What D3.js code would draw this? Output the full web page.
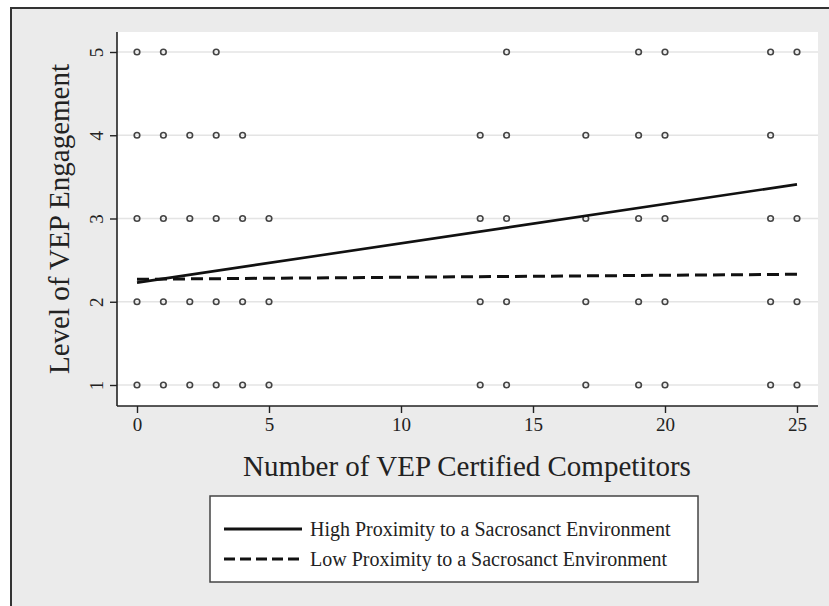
<!DOCTYPE html>
<html>
<head>
<meta charset="utf-8">
<script src="https://cdn.jsdelivr.net/npm/d3@7"></script>
<style>
  body { margin: 0; background: #fff; }
  text { font-family: "Liberation Serif", "Times New Roman", serif; fill: #222; }
</style>
</head>
<body>
<div id="chart"></div>
<script>
// observed points: competitors (x) at each engagement level (y)
var level5 = [0, 1, 3, 14, 19, 20, 24, 25]
var level4 = [0, 1, 2, 3, 4, 13, 14, 17, 19, 20, 24]
var level3 = [0, 1, 2, 3, 4, 5, 13, 14, 17, 19, 20, 24, 25]
var level2 = [0, 1, 2, 3, 4, 5, 13, 14, 17, 19, 20, 24, 25]
var level1 = [0, 1, 2, 3, 4, 5, 13, 14, 17, 19, 20, 24, 25]

// fitted lines (x, predicted engagement)
var highFit = [[0, 2.23], [25, 3.41]]
var lowFit = [[0, 2.27], [25, 2.33]]

var xTicks = [0, 5, 10, 15, 20, 25]
var yTicks = [1, 2, 3, 4, 5]
var legendLabels = ["High Proximity to a Sacrosanct Environment", "Low Proximity to a Sacrosanct Environment"]

var width = 829, height = 606

var svg = d3.select("#chart").append("svg")
    .attr("width", width)
    .attr("height", height)

// outer graph region
svg.append("rect")
    .attr("x", 11).attr("y", 8)
    .attr("width", width).attr("height", height)
    .attr("fill", "#ebebeb")
    .attr("stroke", "#333")
    .attr("stroke-width", 2)

var plot = { left: 117, right: 818, top: 32, bottom: 406 }

svg.append("rect")
    .attr("x", plot.left).attr("y", plot.top)
    .attr("width", plot.right - plot.left)
    .attr("height", plot.bottom - plot.top)
    .attr("fill", "#fff")

var x = d3.scaleLinear().domain([0, 25]).range([137, 797])
var y = d3.scaleLinear().domain([1, 5]).range([385, 52])

// gridlines
svg.selectAll("line.grid")
    .data(yTicks)
    .enter().append("line")
    .attr("class", "grid")
    .attr("x1", plot.left).attr("x2", plot.right)
    .attr("y1", function (d) { return y(d) })
    .attr("y2", function (d) { return y(d) })
    .attr("stroke", "#e4e4e4")
    .attr("stroke-width", 1.5)

// axes
var xAxis = svg.append("g")
    .attr("transform", "translate(0," + plot.bottom + ")")
    .call(d3.axisBottom(x).tickValues(xTicks).tickFormat(d3.format("d"))
        .tickSize(7).tickPadding(5).tickSizeOuter(0))
xAxis.select(".domain").attr("d", "M" + plot.left + ",0H" + plot.right)

var yAxis = svg.append("g")
    .attr("transform", "translate(" + plot.left + ",0)")
    .call(d3.axisLeft(y).tickValues(yTicks).tickFormat(d3.format("d"))
        .tickSize(7).tickSizeOuter(0))
yAxis.select(".domain").attr("d", "M0," + plot.top + "V" + plot.bottom)

svg.selectAll(".domain").attr("stroke", "#222").attr("stroke-width", 1.6)
svg.selectAll(".tick line").attr("stroke", "#222").attr("stroke-width", 1.4)
xAxis.selectAll(".tick text")
    .style("font-family", "Liberation Serif")
    .style("font-size", "19px")
    .attr("fill", "#222")
yAxis.selectAll(".tick text")
    .style("font-family", "Liberation Serif")
    .style("font-size", "19px")
    .attr("fill", "#222")
    .attr("text-anchor", "middle")
    .attr("dy", "0.35em")
    .attr("x", 0)
    .attr("transform", "translate(-21,0) rotate(-90)")

// axis titles
svg.append("text")
    .attr("x", 467).attr("y", 476)
    .attr("text-anchor", "middle")
    .style("font-size", "29px")
    .text("Number of VEP Certified Competitors")

svg.append("text")
    .attr("transform", "translate(69,219) rotate(-90)")
    .attr("text-anchor", "middle")
    .style("font-size", "29px")
    .text("Level of VEP Engagement")

// scatter points
var rows = [[5, level5], [4, level4], [3, level3], [2, level2], [1, level1]]
var pts = []
rows.forEach(function (r) {
    r[1].forEach(function (v) { pts.push({ x: v, y: r[0] }) })
})

svg.selectAll("circle.pt")
    .data(pts)
    .enter().append("circle")
    .attr("class", "pt")
    .attr("cx", function (d) { return x(d.x) })
    .attr("cy", function (d) { return y(d.y) })
    .attr("r", 2.8)
    .attr("fill", "none")
    .attr("stroke", "#444")
    .attr("stroke-width", 1.6)

// fit lines
var line = d3.line()
    .x(function (d) { return x(d[0]) })
    .y(function (d) { return y(d[1]) })

svg.append("path")
    .datum(lowFit)
    .attr("d", line)
    .attr("fill", "none")
    .attr("stroke", "#111")
    .attr("stroke-width", 3)
    .attr("stroke-dasharray", "12,6")

svg.append("path")
    .datum(highFit)
    .attr("d", line)
    .attr("fill", "none")
    .attr("stroke", "#111")
    .attr("stroke-width", 2.6)

// legend
svg.append("rect")
    .attr("x", 210).attr("y", 496)
    .attr("width", 488).attr("height", 86)
    .attr("fill", "#fff")
    .attr("stroke", "#444")
    .attr("stroke-width", 1.5)

var dashes = [null, "11,5"]
legendLabels.forEach(function (lab, i) {
    var ly = 529 + i * 30
    svg.append("line")
        .attr("x1", 224).attr("x2", 302)
        .attr("y1", ly).attr("y2", ly)
        .attr("stroke", "#111")
        .attr("stroke-width", 3)
        .attr("stroke-dasharray", dashes[i])
    svg.append("text")
        .attr("x", 310).attr("y", ly)
        .attr("dy", "0.33em")
        .style("font-size", "20px")
        .text(lab)
})
</script>
</body>
</html>
